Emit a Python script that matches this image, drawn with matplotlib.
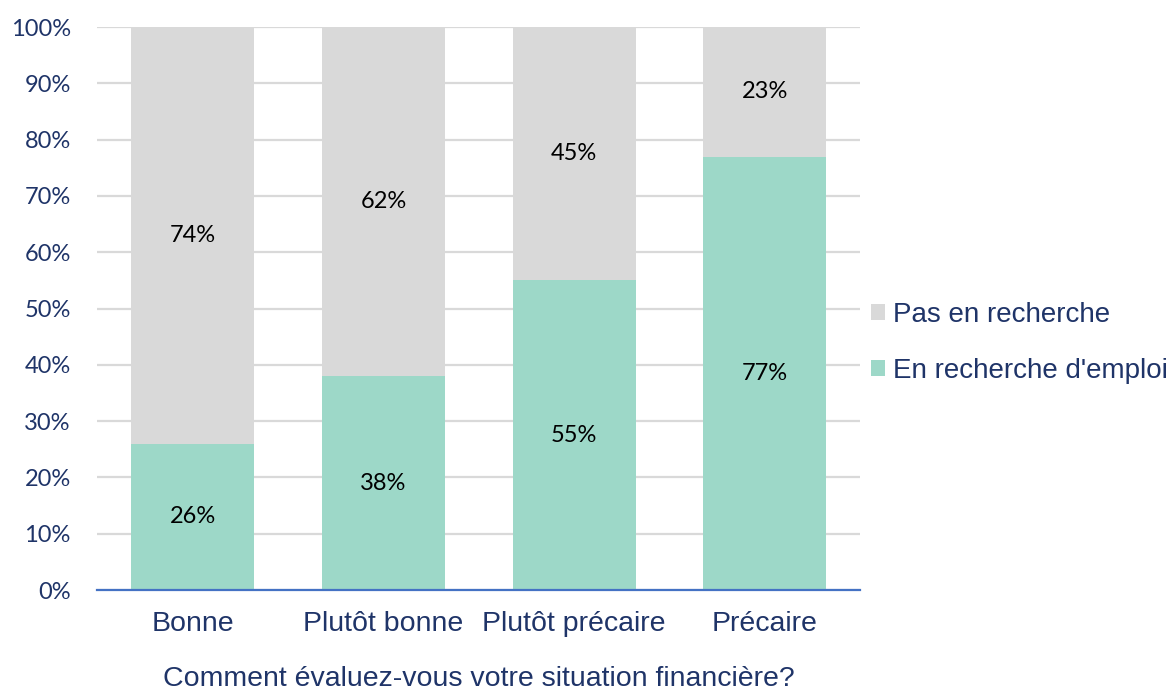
"""Stacked share of job seekers by self-rated financial situation."""
import matplotlib.pyplot as plt
import numpy as np

categories = ['Bonne', 'Plutôt bonne', 'Plutôt précaire', 'Précaire']
en_recherche = [26, 38, 55, 77]
pas_en_recherche = [74, 62, 45, 23]
yticks = list(range(0, 101, 10))

NAVY = '#1F3468'
GREEN = '#9DD8C8'
GREY = '#D9D9D9'
CALIBRI_LIKE = ['Lato', 'DejaVu Sans']
ARIAL_LIKE = ['Liberation Sans', 'DejaVu Sans']

fig = plt.figure(figsize=(11.72, 6.95), dpi=100)
ax = fig.add_axes([0.083, 0.151, 0.651, 0.810])

x = np.arange(len(categories))
width = 0.645
bottom_bars = ax.bar(x, en_recherche, width, color=GREEN, zorder=2,
                     label="En recherche d'emploi")
top_bars = ax.bar(x, pas_en_recherche, width, bottom=en_recherche, color=GREY,
                  zorder=2, label='Pas en recherche')

for i in range(len(categories)):
    ax.text(x[i], en_recherche[i] / 2, f'{en_recherche[i]}%', ha='center',
            va='center', fontsize=17, family=CALIBRI_LIKE, color='black', zorder=3)
    ax.text(x[i], en_recherche[i] + pas_en_recherche[i] / 2,
            f'{pas_en_recherche[i]}%', ha='center', va='center', fontsize=17,
            family=CALIBRI_LIKE, color='black', zorder=3)

ax.set_xlim(-0.5, 3.5)
ax.set_ylim(0, 100)
ax.set_yticks(yticks)
ax.set_yticklabels([f'{t}%' for t in yticks], family=CALIBRI_LIKE, fontsize=17,
                   color=NAVY)
ax.set_xticks(x)
ax.set_xticklabels(categories, family=ARIAL_LIKE, fontsize=20.5, color=NAVY)
ax.tick_params(axis='both', length=0)
ax.tick_params(axis='y', pad=19)
ax.tick_params(axis='x', pad=15)

ax.grid(axis='y', color=GREY, linewidth=1.6, zorder=0)
for side in ['top', 'right', 'left']:
    ax.spines[side].set_visible(False)
ax.spines['bottom'].set_color('#4472C4')
ax.spines['bottom'].set_linewidth(1.6)
ax.spines['bottom'].set_zorder(3)

ax.set_xlabel('Comment évaluez-vous votre situation financière?',
              family=ARIAL_LIKE, fontsize=20.5, color=NAVY, labelpad=21)

leg = ax.legend(handles=[top_bars, bottom_bars],
                labels=['Pas en recherche', "En recherche d'emploi"],
                loc='center left', bbox_to_anchor=(1.014, 0.439), frameon=False,
                prop={'family': ARIAL_LIKE, 'size': 20}, handlelength=0.5,
                handleheight=0.5, handletextpad=0.3, labelspacing=1.1,
                borderaxespad=0, borderpad=0)
for t in leg.get_texts():
    t.set_color(NAVY)

fig.savefig('out.png', dpi=100)
